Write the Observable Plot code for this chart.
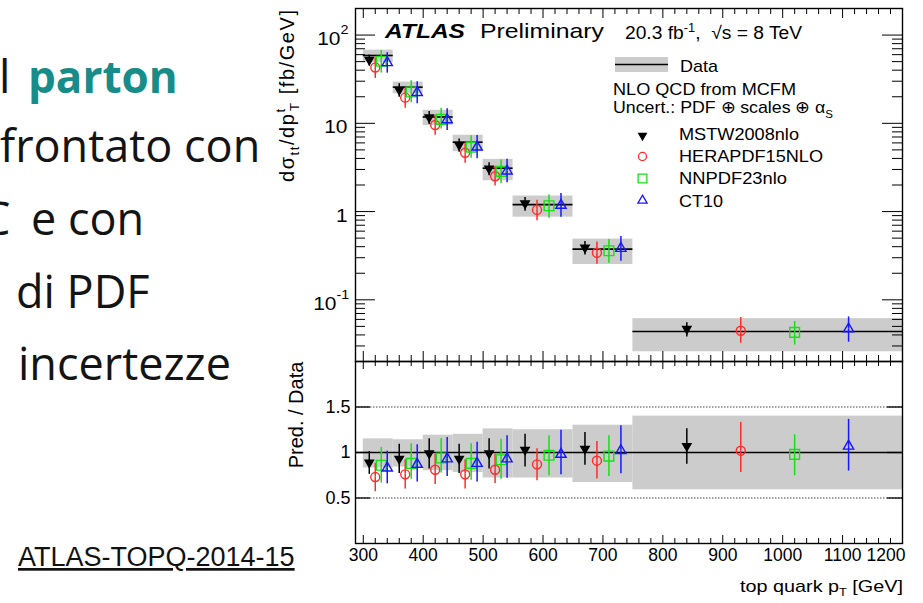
<!DOCTYPE html>
<html>
<head>
<meta charset="utf-8">
<script src="https://cdn.jsdelivr.net/npm/d3@7"></script>
<script src="https://cdn.jsdelivr.net/npm/@observablehq/plot@0.6"></script>
<style>
  html, body { margin: 0; padding: 0; background: #fff; }
  #slide { position: relative; width: 923px; height: 603px; overflow: hidden; background: #fff; }
  #slide > svg, #slide > figure { position: absolute; margin: 0; }
  #bg { left: 0; top: 0; }
  .body-text { font-family: "Open Sans", sans-serif; font-size: 45px; fill: #141414; }
</style>
</head>
<body>
<div id="slide">
  <svg id="bg" width="923" height="603">
    <text class="body-text" x="-1" y="93">l</text>
    <text class="body-text" x="28" y="93" style="font-weight:700;font-size:44px;fill:#178c88">parton</text>
    <text class="body-text" x="0" y="162">frontato con</text>
    <text class="body-text" x="-18" y="235">C</text>
    <text class="body-text" x="31" y="235">e con</text>
    <text class="body-text" x="16" y="308">di PDF</text>
    <text class="body-text" x="18" y="380">incertezze</text>
    <text x="18" y="566" style="font-family:'Liberation Sans',Arial,sans-serif;font-size:27px;fill:#111;text-decoration:underline">ATLAS-TOPQ-2014-15</text>
  </svg>
</div>
<script>
// ---- top quark pT bins [GeV] ----
const binLo = [300, 350, 400, 450, 500, 550, 650, 750];
const binHi = [350, 400, 450, 500, 550, 650, 750, 1200];

// ---- measured dsigma/dpT [fb/GeV] and its relative uncertainty band ----
const dataXsec  = [58.7, 25.7, 11.8, 6.11, 3.10, 1.20, 0.375, 0.0437];
const dataUncLo = [0.83, 0.84, 0.80, 0.78, 0.72, 0.72, 0.67, 0.59];
const dataUncHi = [1.15, 1.14, 1.19, 1.20, 1.26, 1.25, 1.30, 1.40];

// ---- NLO predictions, as ratio to data, with uncertainty ----
const mstwRatio  = [0.89, 0.93, 0.99, 0.93, 0.99, 1.03, 1.04, 1.07];
const mstwLo     = [0.76, 0.77, 0.82, 0.77, 0.82, 0.84, 0.86, 0.87];
const mstwHi     = [1.01, 1.09, 1.15, 1.09, 1.15, 1.20, 1.22, 1.26];
const heraRatio  = [0.73, 0.76, 0.81, 0.76, 0.81, 0.87, 0.91, 1.02];
const heraLo     = [0.62, 0.65, 0.70, 0.65, 0.71, 0.74, 0.76, 0.83];
const heraHi     = [0.83, 0.87, 0.93, 0.87, 0.93, 0.99, 1.07, 1.28];
const nnpdfRatio = [0.86, 0.88, 0.94, 0.88, 0.92, 0.97, 0.96, 0.98];
const nnpdfLo    = [0.72, 0.76, 0.83, 0.75, 0.76, 0.80, 0.79, 0.80];
const nnpdfHi    = [1.00, 1.04, 1.10, 1.04, 1.09, 1.13, 1.13, 1.14];
const ct10Ratio  = [0.83, 0.87, 0.93, 0.88, 0.93, 0.98, 1.02, 1.07];
const ct10Lo     = [0.70, 0.72, 0.78, 0.72, 0.76, 0.80, 0.81, 0.84];
const ct10Hi     = [0.97, 1.04, 1.12, 1.07, 1.14, 1.20, 1.25, 1.32];

const seriesNames = ["MSTW2008nlo", "HERAPDF15NLO", "NNPDF23nlo", "CT10"];

// ---- axis ticks and labels ----
const xTickValues = [300, 400, 500, 600, 700, 800, 900, 1000, 1100, 1200];
const xTickLabels = ["300", "400", "500", "600", "700", "800", "900", "1000", "1100", "1200"];
const yTopTicks = [0.1, 1, 10, 100];
const yTopBase  = ["10", "1", "10", "10"];
const yTopExp   = ["-1", "", "", "2"];
const yRatioTicks  = [0.5, 1, 1.5];
const yRatioLabels = ["0.5", "1", "1.5"];

// ---- styling ----
const FONT = "'Liberation Sans', Arial, Helvetica, sans-serif";
const X_DOMAIN = [287, 1200];
const FRAME_W = 547;           // plot frame width in px (both panels)
const TOP_FH = 353;            // top frame height
const LOW_FH = 182;            // ratio frame height
const BAND = "#cccccc";

const styles = [
  {name: seriesNames[0], ratio: mstwRatio,  lo: mstwLo,  hi: mstwHi,  color: "#000000", symbol: "triangle", rotate: 180, fill: "#000000", r: 3.1, gap: 0,   pos: 0.2},
  {name: seriesNames[1], ratio: heraRatio,  lo: heraLo,  hi: heraHi,  color: "#ff2b2b", symbol: "circle",   rotate: 0,   fill: "none",    r: 4.5, gap: 4.6, pos: 0.4},
  {name: seriesNames[2], ratio: nnpdfRatio, lo: nnpdfLo, hi: nnpdfHi, color: "#16e016", symbol: "square",   rotate: 0,   fill: "none",    r: 5.5, gap: 5.0, pos: 0.6},
  {name: seriesNames[3], ratio: ct10Ratio,  lo: ct10Lo,  hi: ct10Hi,  color: "#1717ff", symbol: "triangle", rotate: 0,   fill: "none",    r: 3.8, gap: 4.0, pos: 0.8}
];

const bins = binLo.map((lo, i) => ({lo, hi: binHi[i], data: dataXsec[i], uLo: dataUncLo[i], uHi: dataUncHi[i]}));
const preds = styles.map(s => binLo.map((lo, i) => ({
  x: lo + s.pos * (binHi[i] - lo),
  data: dataXsec[i], ratio: s.ratio[i], rLo: s.lo[i], rHi: s.hi[i]
})));

const xMinor = d3.range(300, 1200, 20).filter(v => v % 100 !== 0);
const yMajorLog = yTopTicks;
const yMinorLog = [];
for (const dec of [0.01, 0.1, 1, 10, 100]) for (let k = 2; k <= 9; k++) {
  const v = +(k * dec).toPrecision(3);
  if (v > 0.02 && v < 200) yMinorLog.push(v);
}

// error bars split around hollow markers, then the markers
function predictionMarks(s, rows, yv, ylo, yhi) {
  return [
    Plot.ruleX(rows, {x: "x", y1: ylo, y2: yv, insetTop: s.gap, stroke: s.color, strokeWidth: 1.5}),
    Plot.ruleX(rows, {x: "x", y1: yv, y2: yhi, insetBottom: s.gap, stroke: s.color, strokeWidth: 1.5}),
    Plot.dot(rows, {x: "x", y: yv, symbol: s.symbol, r: s.r, rotate: s.rotate, fill: s.fill, stroke: s.color, strokeWidth: 1.4})
  ];
}

// ---------- upper panel: cross section ----------
const topPlot = Plot.plot({
  width: 653, height: 362,
  marginLeft: 85, marginRight: 21, marginTop: 8, marginBottom: 1,
  x: {domain: X_DOMAIN, axis: null},
  y: {type: "log", domain: [0.02, 200], axis: null},
  style: {background: "none", overflow: "visible", fontFamily: FONT, color: "#000"},
  marks: [
    Plot.rect(bins, {x1: "lo", x2: "hi", y1: d => d.data * d.uLo, y2: d => d.data * d.uHi, fill: BAND}),
    Plot.ruleY(bins, {x1: "lo", x2: "hi", y: "data", stroke: "#000", strokeWidth: 1.6}),
    ...styles.flatMap((s, k) => predictionMarks(s, preds[k],
      d => d.data * d.ratio, d => d.data * d.rLo, d => d.data * d.rHi)),
    // ticks on all four sides, pointing inward
    Plot.tickX(xTickValues, {x: d => d, insetBottom: TOP_FH - 10, stroke: "#000"}),
    Plot.tickX(xMinor, {x: d => d, insetBottom: TOP_FH - 6, stroke: "#000"}),
    Plot.tickX(xTickValues, {x: d => d, insetTop: TOP_FH - 10, stroke: "#000"}),
    Plot.tickX(xMinor, {x: d => d, insetTop: TOP_FH - 6, stroke: "#000"}),
    Plot.tickY(yMajorLog, {y: d => d, insetRight: FRAME_W - 20, stroke: "#000"}),
    Plot.tickY(yMinorLog, {y: d => d, insetRight: FRAME_W - 10, stroke: "#000"}),
    Plot.tickY(yMajorLog, {y: d => d, insetLeft: FRAME_W - 20, stroke: "#000"}),
    Plot.tickY(yMinorLog, {y: d => d, insetLeft: FRAME_W - 10, stroke: "#000"}),
    // y tick labels as 10^n
    ...yTopTicks.flatMap((v, i) => {
      const expW = yTopExp[i] === "" ? 0 : (yTopExp[i].length > 1 ? 11 : 7);
      const end = yTopExp[i] === "" ? -8 : -8 - expW;
      const out = [Plot.text([v], {y: d => d, frameAnchor: "left", text: () => yTopBase[i], textAnchor: "end", dx: end, dy: 4, fontSize: 19, fill: "#000"})];
      if (yTopExp[i] !== "") out.push(Plot.text([v], {y: d => d, frameAnchor: "left", text: () => yTopExp[i], textAnchor: "start", dx: end, dy: -5, fontSize: 13, fill: "#000"}));
      return out;
    }),
    // legend markers
    ...styles.map((s, k) => Plot.dot([0], {frameAnchor: "top-left", dx: 287, dy: [127, 148, 170, 192][k],
      symbol: s.symbol, r: k === 0 ? 2.8 : s.r * 0.9, rotate: s.rotate, fill: s.fill, stroke: s.color, strokeWidth: 1.3})),
    Plot.frame({stroke: "#000", strokeWidth: 1.4})
  ]
});

// ---------- lower panel: prediction / data ----------
const ratioPlot = Plot.plot({
  width: 653, height: 248,
  marginLeft: 85, marginRight: 21, marginTop: 6, marginBottom: 60,
  x: {domain: X_DOMAIN, axis: null},
  y: {domain: [0, 2], axis: null},
  style: {background: "none", overflow: "visible", fontFamily: FONT, color: "#000"},
  marks: [
    Plot.rect(bins, {x1: "lo", x2: "hi", y1: "uLo", y2: "uHi", fill: BAND}),
    Plot.ruleY(yRatioTicks.filter(v => v !== 1), {y: d => d, stroke: "#444", strokeWidth: 1, strokeDasharray: "1.5,1.5"}),
    Plot.ruleY([1], {y: d => d, stroke: "#000", strokeWidth: 1.5}),
    ...styles.flatMap((s, k) => predictionMarks(s, preds[k], "ratio", "rLo", "rHi")),
    Plot.tickX(xTickValues, {x: d => d, insetBottom: LOW_FH - 8, stroke: "#000"}),
    Plot.tickX(xMinor, {x: d => d, insetBottom: LOW_FH - 5, stroke: "#000"}),
    Plot.tickX(xTickValues, {x: d => d, insetTop: LOW_FH - 8, stroke: "#000"}),
    Plot.tickX(xMinor, {x: d => d, insetTop: LOW_FH - 5, stroke: "#000"}),
    Plot.tickY(yRatioTicks, {y: d => d, insetRight: FRAME_W - 15, stroke: "#000", strokeWidth: 1.3}),
    Plot.tickY(yRatioTicks, {y: d => d, insetLeft: FRAME_W - 15, stroke: "#000", strokeWidth: 1.3}),
    Plot.text(yRatioTicks, {y: d => d, text: (d, i) => yRatioLabels[i], frameAnchor: "left", textAnchor: "end", dx: -5, fontSize: 18, fill: "#000"}),
    Plot.text(xTickValues.slice(0, -1), {x: d => d, text: (d, i) => xTickLabels[i], frameAnchor: "bottom", lineAnchor: "top", dy: 5, fontSize: 17.5, fill: "#000"}),
    Plot.text(xTickValues.slice(-1), {x: d => d, text: () => xTickLabels[xTickLabels.length - 1], frameAnchor: "bottom", lineAnchor: "top", textAnchor: "end", dx: 3, dy: 5, fontSize: 17.5, fill: "#000"}),
    Plot.frame({stroke: "#000", strokeWidth: 1.4})
  ]
});

const slide = document.getElementById("slide");
topPlot.style.left = "270px"; topPlot.style.top = "0px";
ratioPlot.style.left = "270px"; ratioPlot.style.top = "355px";
slide.appendChild(topPlot);
slide.appendChild(ratioPlot);

// texts with sub/superscripts
function richText(svg, o, parts) {
  const t = d3.select(svg).append("text")
    .attr("x", o.x).attr("y", o.y)
    .attr("text-anchor", o.anchor || "start")
    .attr("font-family", FONT)
    .attr("font-size", o.size)
    .attr("fill", "#000");
  if (o.weight) t.attr("font-weight", o.weight);
  if (o.italic) t.attr("font-style", "italic");
  if (o.rotate) t.attr("transform", `rotate(${o.rotate},${o.x},${o.y})`);
  if (o.length) t.attr("textLength", o.length).attr("lengthAdjust", o.adjust || "spacingAndGlyphs");
  for (const p of parts) {
    const s = t.append("tspan").text(p.t);
    if (p.size) s.attr("font-size", p.size);
    if (p.dy) s.attr("dy", p.dy);
    if (p.dx) s.attr("dx", p.dx);
  }
  return t;
}

// horizontally widen the upper tick labels like the rest of the lettering
function widen(svg, k) {
  svg.querySelectorAll('g[aria-label="text"] text').forEach(t => {
    const w = t.getComputedTextLength();
    t.setAttribute("textLength", (w * k).toFixed(1));
    t.setAttribute("lengthAdjust", "spacingAndGlyphs");
  });
}
widen(topPlot, 1.1);

// header and legend of the upper panel
richText(topPlot, {x: 115, y: 38, size: 21, weight: 700, italic: true, length: 80}, [{t: "ATLAS"}]);
richText(topPlot, {x: 210, y: 38, size: 21, length: 124}, [{t: "Preliminary"}]);
richText(topPlot, {x: 355, y: 39, size: 18, length: 177}, [
  {t: "20.3 fb"}, {t: "-1", size: 12, dy: -7}, {t: ",  \u221As = 8 TeV", dy: 7}
]);
d3.select(topPlot).append("rect").attr("x", 345).attr("y", 57).attr("width", 53).attr("height", 15).attr("fill", BAND);
d3.select(topPlot).append("line").attr("x1", 345).attr("x2", 398).attr("y1", 64.5).attr("y2", 64.5).attr("stroke", "#000").attr("stroke-width", 1.6);
richText(topPlot, {x: 410, y: 72, size: 17, length: 38}, [{t: "Data"}]);
richText(topPlot, {x: 343, y: 95, size: 17, length: 183}, [{t: "NLO QCD from MCFM"}]);
richText(topPlot, {x: 343, y: 113, size: 17, length: 220}, [
  {t: "Uncert.: PDF \u2295 scales \u2295 \u03B1"}, {t: "S", size: 11, dy: 5}
]);
const legendBase = [140, 162, 184, 207];
const legendLen = [120, 144, 108, 44];
seriesNames.forEach((n, k) => richText(topPlot, {x: 409, y: legendBase[k], size: 17, length: legendLen[k]}, [{t: n}]));

// y title of the upper panel (reads bottom to top)
richText(topPlot, {x: 24, y: 182, size: 20, rotate: -90, anchor: "start", length: 172, adjust: "spacing"}, [
  {t: "d\u03C3"}, {t: "tt", size: 13, dy: 5}, {t: "/dp", dy: -5},
  {t: "t", size: 13, dy: -9}, {t: "T", size: 13, dx: -3.6, dy: 14}, {t: " [fb/GeV]", dy: -5}
]);

// titles of the lower panel
richText(ratioPlot, {x: 33, y: 60, size: 20, rotate: -90, anchor: "middle"}, [{t: "Pred. / Data"}]);
richText(ratioPlot, {x: 633, y: 237, size: 17, anchor: "end", length: 163}, [
  {t: "top quark p"}, {t: "T", size: 11, dy: 4}, {t: " [GeV]", dy: -4}
]);
</script>
</body>
</html>
